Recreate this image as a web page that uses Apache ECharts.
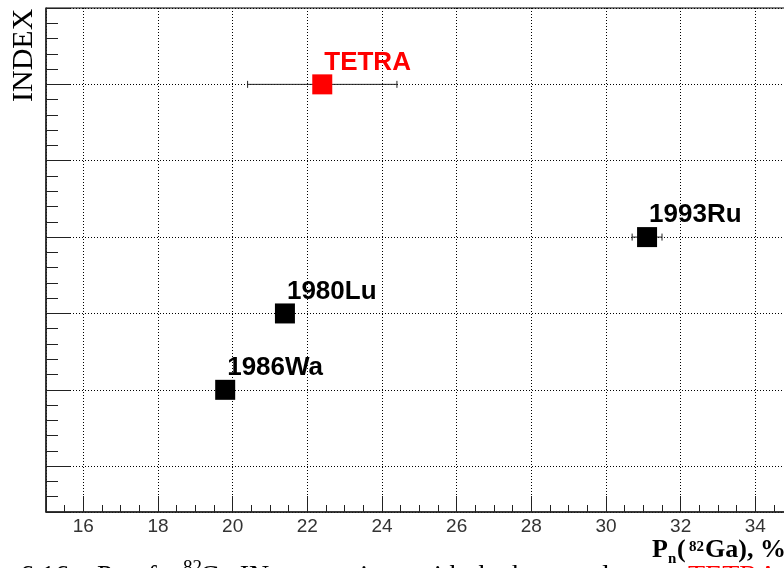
<!DOCTYPE html>
<html>
<head>
<meta charset="utf-8">
<script src="https://cdn.jsdelivr.net/npm/echarts@6/dist/echarts.min.js"></script>
<style>html,body{margin:0;padding:0;background:#fff;overflow:hidden;width:784px;height:568px}#c{width:830px;height:568px}</style>
</head>
<body>
<div id="c"></div>
<script>
// ---- data ----
const names = ['1986Wa', '1980Lu', '1993Ru', 'TETRA'];
const pnValues = [19.8, 21.4, 31.1, 22.4];
const pnErrors = [0, 0, 0.4, 2.0];
const indexValues = [2, 3, 4, 6];
const highlightName = 'TETRA';
const xRange = [15, 36];
const yRange = [0.4, 7];
const yAxisTitle = 'INDEX';
const captionText = ['6.16 \u2013 Pn of', '82', 'Ga IN comparison with the known data', 'TETRA'];

const chart = echarts.init(document.getElementById('c'), null, {renderer: 'canvas'});

const sans = '"Liberation Sans", Arial, sans-serif';
const serif = '"Liberation Serif", "Times New Roman", serif';

function txt(x, y, text, font, fill, extra) {
  return Object.assign({
    type: 'text', x: x, y: y, silent: true,
    style: {text: text, font: font, fill: fill || '#000', align: 'left', verticalAlign: 'top',
            textAlign: 'left', textVerticalAlign: 'top'}
  }, extra || {});
}

const option = {
  animation: false,
  backgroundColor: '#fff',
  grid: {left: 46, top: 8, right: 0, bottom: 56, show: true, borderColor: '#000', borderWidth: 1,
         backgroundColor: 'transparent', containLabel: false},
  xAxis: {
    type: 'value', min: xRange[0], max: xRange[1], splitNumber: 10,
    axisLine: {show: true, lineStyle: {color: '#222', width: 1.5}},
    axisTick: {show: true, inside: true, length: 16, lineStyle: {color: '#222', width: 1}},
    minorTick: {show: true, splitNumber: 4, length: 7, lineStyle: {color: '#222', width: 1}},
    axisLabel: {show: true, showMinLabel: false, showMaxLabel: false, margin: 5,
                color: '#333', fontFamily: sans, fontSize: 19},
    splitLine: {show: true, lineStyle: {color: '#000', width: 1, type: [1, 2]}},
    minorSplitLine: {show: false}
  },
  yAxis: {
    type: 'value', min: yRange[0], max: yRange[1], splitNumber: 6,
    axisLine: {show: true, lineStyle: {color: '#222', width: 1.5}},
    axisTick: {show: true, inside: true, length: 24, lineStyle: {color: '#222', width: 1}},
    minorTick: {show: true, splitNumber: 5, length: 12, lineStyle: {color: '#222', width: 1}},
    axisLabel: {show: false},
    splitLine: {show: true, lineStyle: {color: '#000', width: 1, type: [1, 2]}},
    minorSplitLine: {show: false}
  },
  graphic: [
    txt(24, 102, yAxisTitle, '31px ' + serif, '#000', {rotation: Math.PI / 2,
      style: {text: yAxisTitle, font: '30px ' + serif, fill: '#000', align: 'left', verticalAlign: 'middle',
              textAlign: 'left', textVerticalAlign: 'middle'}}),
    // x axis title P_n(82Ga), %
    txt(652, 537, 'P', 'bold 26px ' + serif),
    txt(668, 552, 'n', 'bold 15px ' + serif),
    txt(677, 537, '(', 'bold 26px ' + serif),
    txt(689, 540, '82', 'bold 15px ' + serif),
    txt(705, 537, 'Ga), %', 'bold 26px ' + serif),
    // cropped caption below the figure
    txt(20, 563, captionText[0], '28px ' + serif),
    txt(183, 559, captionText[1], '19px ' + serif),
    txt(200, 563, captionText[2], '28px ' + serif),
    txt(688, 563, captionText[3], '28px ' + serif, '#ff0000')
  ],
  series: [
    {
      type: 'custom', z: 1, silent: true,
      encode: {x: 0, y: 1},
      data: pnValues.map((x, i) => [x, indexValues[i], pnErrors[i]]),
      renderItem: function (params, api) {
        const x = api.value(0), y = api.value(1), e = api.value(2);
        if (!e) return null;
        const a = api.coord([x - e, y]), b = api.coord([x + e, y]);
        const h = 3.5;
        const st = {stroke: '#222', lineWidth: 1};
        return {type: 'group', children: [
          {type: 'line', shape: {x1: a[0], y1: a[1], x2: b[0], y2: b[1]}, style: st},
          {type: 'line', shape: {x1: a[0], y1: a[1] - h, x2: a[0], y2: a[1] + h}, style: st},
          {type: 'line', shape: {x1: b[0], y1: b[1] - h, x2: b[0], y2: b[1] + h}, style: st}
        ]};
      }
    },
    {
      type: 'scatter', z: 5, silent: true,
      symbol: 'rect', symbolSize: 20,
      itemStyle: {opacity: 1},
      data: names.map((n, i) => {
        const col = n === highlightName ? '#ff0000' : '#000';
        return {name: n, value: [pnValues[i], indexValues[i]], itemStyle: {color: col, opacity: 1},
                label: {color: col}};
      }),
      label: {
        show: true, formatter: '{b}', position: [12, 1], align: 'left', verticalAlign: 'bottom',
        fontFamily: sans, fontWeight: 'bold', fontSize: 26, opacity: 1
      }
    }
  ]
};
chart.setOption(option);
</script>
</body>
</html>
